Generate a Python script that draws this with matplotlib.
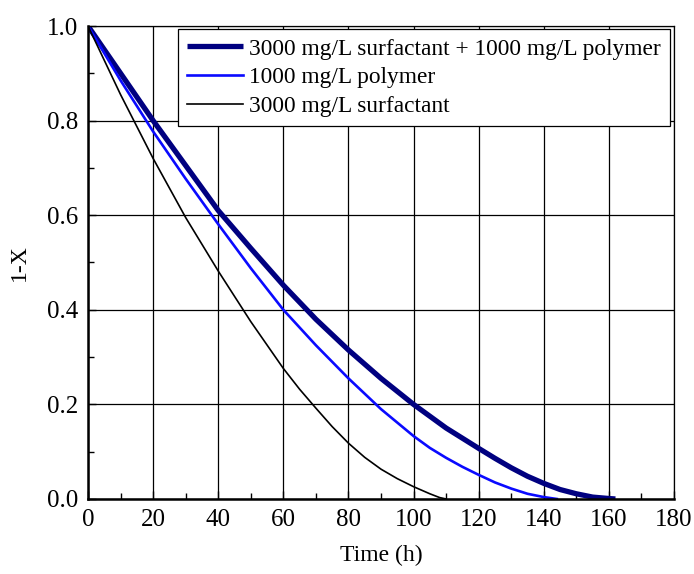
import numpy as np
import matplotlib.pyplot as plt
from matplotlib.ticker import MultipleLocator

plt.rcParams['font.family'] = ['Liberation Serif', 'DejaVu Serif']

# curves
t_mix = [0, 10, 20, 30, 40, 50, 60, 70, 80, 90, 100, 110, 120, 125, 130, 135,
         140, 145, 150, 155, 160, 162]
y_mix = [1.0, 0.90, 0.80, 0.705, 0.61, 0.53, 0.452, 0.38, 0.315, 0.255, 0.20,
         0.15, 0.107, 0.086, 0.066, 0.048, 0.033, 0.02, 0.011, 0.004, 0.001, 0.0]

t_poly = [0, 10, 20, 30, 40, 50, 60, 70, 80, 90, 100, 105, 110, 115, 120, 125,
          130, 135, 140, 144]
y_poly = [1.0, 0.885, 0.777, 0.677, 0.581, 0.488, 0.40, 0.325, 0.255, 0.19,
          0.133, 0.108, 0.087, 0.068, 0.051, 0.035, 0.022, 0.011, 0.004, 0.0]

t_surf = [0, 10, 20, 30, 40, 50, 60, 65, 70, 75, 80, 85, 90, 95, 100, 105, 108, 110]
y_surf = [1.0, 0.855, 0.72, 0.595, 0.482, 0.375, 0.276, 0.232, 0.192, 0.153,
          0.118, 0.088, 0.063, 0.043, 0.026, 0.011, 0.003, 0.0]

labels = ['3000 mg/L surfactant + 1000 mg/L polymer',
          '1000 mg/L polymer',
          '3000 mg/L surfactant']

fig = plt.figure(figsize=(6.94, 5.74), dpi=100)
ax = fig.add_axes([0.1268, 0.1307, 0.8444, 0.824])

ax.plot(t_mix, y_mix, color='#000080', lw=3.8, label=labels[0], solid_capstyle='butt')
ax.plot(t_poly, y_poly, color='#0a0aff', lw=1.9, label=labels[1])
ax.plot(t_surf, y_surf, color='black', lw=1.2, label=labels[2])

ax.set_xlim(0, 180)
ax.set_ylim(0, 1.0)
ax.xaxis.set_major_locator(MultipleLocator(20))
ax.xaxis.set_minor_locator(MultipleLocator(10))
ax.yaxis.set_major_locator(MultipleLocator(0.2))
ax.yaxis.set_minor_locator(MultipleLocator(0.1))
ax.yaxis.set_major_formatter(plt.FormatStrFormatter('%.1f'))
ax.grid(True, which='major', color='black', lw=0.9)
ax.tick_params(which='both', direction='in', labelsize=18, top=False, right=False)
ax.tick_params(which='major', length=6, width=1, pad=7)
ax.tick_params(which='minor', length=4, width=1)

for s in ['left', 'bottom']:
    ax.spines[s].set_linewidth(1.8)
for s in ['top', 'right']:
    ax.spines[s].set_linewidth(0.9)

ax.set_xlabel('Time (h)', fontsize=17, labelpad=10)
ax.set_ylabel('1-X', fontsize=17, labelpad=12)

leg = ax.legend(loc='upper right', fontsize=16.8, frameon=True, fancybox=False,
                edgecolor='black', framealpha=1, handlelength=2.4,
                bbox_to_anchor=(0.993, 0.994),
                borderaxespad=0.0, labelspacing=0.32, handletextpad=0.25,
                borderpad=0.4)
leg.get_frame().set_linewidth(0.9)

fig.savefig('out.png', dpi=100)
